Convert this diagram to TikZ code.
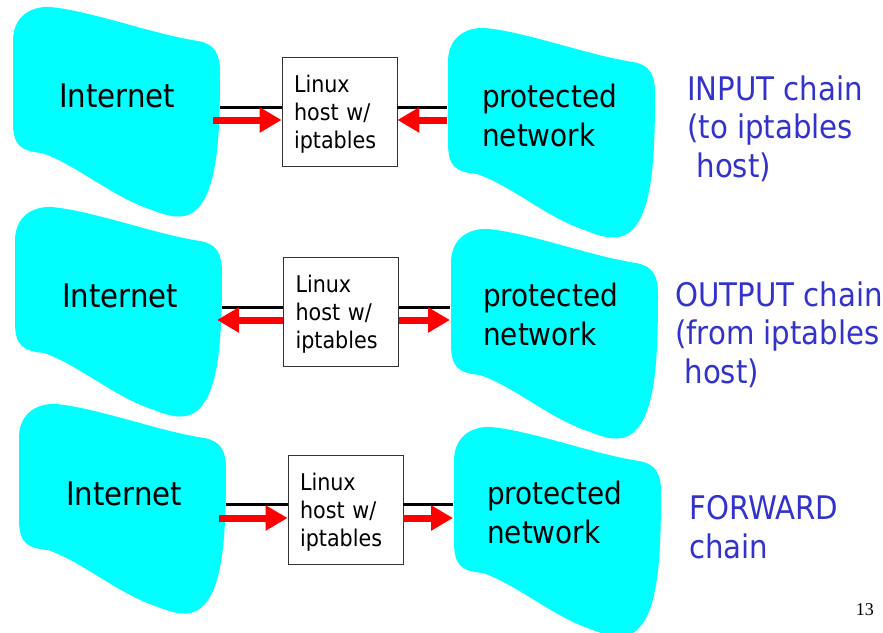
\documentclass[tikz,border=0pt]{standalone}
\usepackage{fontspec}
\setmainfont{DejaVu Sans Condensed}
\newfontfamily\pagefont{Liberation Serif}
\usetikzlibrary{arrows.meta,calc}
\definecolor{netcyan}{RGB}{0,255,255}
\definecolor{chainblue}{RGB}{51,51,204}

\begin{document}
\begin{tikzpicture}[x=1pt,y=-1pt,
    netcloud/.pic={
      \fill[netcyan] (1,36) .. controls (0,12) and (16,-1) .. (38,0)
        .. controls (80,4) and (140,27) .. (186,34)
        .. controls (203,37) and (208,47) .. (208,65)
        .. controls (208,125) and (206,180) .. (186,201)
        .. controls (176,212) and (162,212) .. (140,203)
        .. controls (100,190) and (65,158) .. (30,146)
        .. controls (8,144) and (1,138) .. (1,115) -- cycle;
      \coordinate (-e) at (208,100);
      \coordinate (-w) at (0,100);
    },
    cloudtext/.style={anchor=base west,inner sep=0pt,align=left,font=\fontsize{31}{39}\selectfont},
    hostbox/.style={draw=black!80,line width=0.8pt,fill=white,text width=91pt,inner xsep=12pt,
      text height=22.5pt,minimum height=109pt,align=left,font=\fontsize{23}{28}\selectfont},
    chaintext/.style={anchor=base west,inner sep=0pt,align=left,text=chainblue,font=\fontsize{32.5}{38.5}\selectfont},
    wire/.style={line width=3pt},
    flow/.style={red,line width=7pt,-{Triangle[length=22pt,width=24pt]}}]
  \useasboundingbox (0,0) rectangle (883,632);

  \pic (inet1) at (12,7) {netcloud};
  \pic (prot1) at (447,28) {netcloud};
  \pic (inet2) at (14,207) {netcloud};
  \pic (prot2) at (450,229) {netcloud};
  \pic (inet3) at (18,404) {netcloud};
  \pic (prot3) at (453,427) {netcloud};

  \node[cloudtext,font=\fontsize{32.5}{39}\selectfont] (inettext1) at (59,107) {Internet};
  \node[cloudtext] (prottext1) at (482,146) {protected\\network};
  \node[hostbox] (host1) at (339.5,111.5) {Linux\\host w/\\iptables};
  \node[chaintext] (chain1) at (687,177) {INPUT chain\\(to iptables\\ \ host)};

  \node[cloudtext,font=\fontsize{32.5}{39}\selectfont] (inettext2) at (62,307) {Internet};
  \node[cloudtext] (prottext2) at (483,345) {protected\\network};
  \node[hostbox] (host2) at (341,311.5) {Linux\\host w/\\iptables};
  \node[chaintext] (chain2) at (675,383) {OUTPUT chain\\(from iptables\\ \ host)};

  \node[cloudtext,font=\fontsize{32.5}{39}\selectfont] (inettext3) at (66,505) {Internet};
  \node[cloudtext] (prottext3) at (487,543) {protected\\network};
  \node[hostbox] (host3) at (345.5,509.5) {Linux\\host w/\\iptables};
  \node[chaintext] (chain3) at (689,558) {FORWARD\\chain};

  \draw[wire] ($(host1.west)+(0,-4.5)$) -- ($(host1.west -| inet1-e)+(0,-4.5)$);
  \draw[wire] ($(host1.east)+(0,-4.5)$) -- ($(host1.east -| prot1-w)+(0,-4.5)$);
  \draw[flow] ($(host1.west -| inet1-e)+(-7,8.5)$) -- ($(host1.west)+(0,8.5)$);
  \draw[flow] ($(host1.east -| prot1-w)+(0,8.5)$) -- ($(host1.east)+(0,8.5)$);

  \draw[wire] ($(host2.west)+(0,-4.5)$) -- ($(host2.west -| inet2-e)+(0,-4.5)$);
  \draw[wire] ($(host2.east)+(0,-4.5)$) -- ($(host2.east -| prot2-w)+(0,-4.5)$);
  \draw[flow] ($(host2.west)+(0,8.5)$) -- ($(host2.west -| inet2-e)+(-5,8.5)$);
  \draw[flow] ($(host2.east)+(0,8.5)$) -- ($(host2.east -| prot2-w)+(0,8.5)$);

  \draw[wire] ($(host3.west)+(0,-5.5)$) -- ($(host3.west -| inet3-e)+(0,-5.5)$);
  \draw[wire] ($(host3.east)+(0,-5.5)$) -- ($(host3.east -| prot3-w)+(0,-5.5)$);
  \draw[flow] ($(host3.west -| inet3-e)+(-7,8.5)$) -- ($(host3.west)+(0,8.5)$);
  \draw[flow] ($(host3.east)+(0,8.5)$) -- ($(host3.east -| prot3-w)+(0,8.5)$);

  \node[anchor=base east,inner sep=0pt,font=\pagefont\fontsize{18}{18}\selectfont] (pagenum) at (874,615) {13};
\end{tikzpicture}
\end{document}
